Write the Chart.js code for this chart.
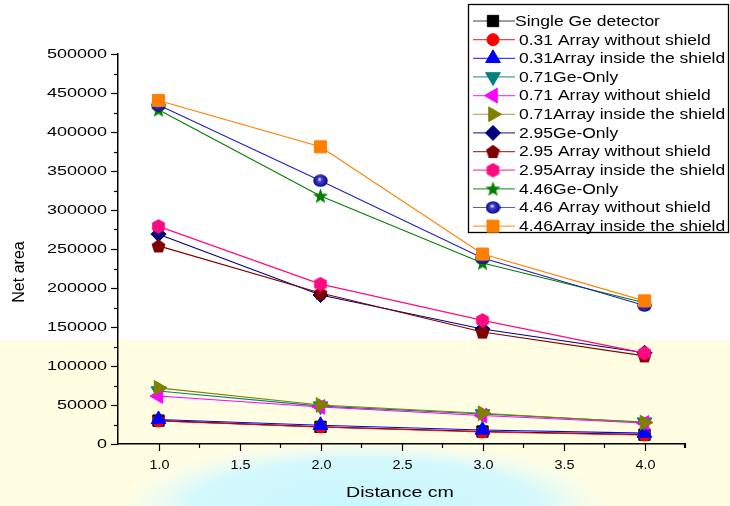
<!DOCTYPE html>
<html>
<head>
<meta charset="utf-8">
<script src="https://cdn.jsdelivr.net/npm/chart.js"></script>
<style>
  html, body { margin: 0; padding: 0; background: #ffffff; }
  #wrap { width: 730px; height: 506px; }
</style>
</head>
<body>
<div id="wrap"><canvas id="c" width="730" height="506"></canvas></div>
<script>
// ---------------- data ----------------
const distances = [1, 2, 3, 4];
const xTickValues = [1.0, 1.5, 2.0, 2.5, 3.0, 3.5, 4.0];
const yTickValues = [0, 50000, 100000, 150000, 200000, 250000, 300000, 350000, 400000, 450000, 500000];

const seriesLabels = [
  "Single Ge detector",
  "0.31 Array without shield",
  "0.31Array inside the shield",
  "0.71Ge-Only",
  "0.71 Array without shield",
  "0.71Array inside the shield",
  "2.95Ge-Only",
  "2.95 Array without shield",
  "2.95Array inside the shield",
  "4.46Ge-Only",
  "4.46 Array without shield",
  "4.46Array inside the shield"
];

const singleGe    = [30000, 22000, 16000, 12000];
const a031Without = [29500, 21800, 15400, 11500];
const a031Inside  = [31500, 24000, 18000, 14000];
const ge071Only   = [68000, 48500, 38500, 28000];
const a071Without = [61500, 47500, 36500, 27000];
const a071Inside  = [72000, 50000, 39500, 27500];
const ge295Only   = [269000, 191000, 147500, 117000];
const a295Without = [254000, 193500, 143500, 113000];
const a295Inside  = [279000, 205000, 158500, 116500];
const ge446Only   = [428500, 318000, 232000, 181000];
const a446Without = [434500, 337500, 238500, 177500];
const a446Inside  = [440500, 381000, 243500, 183500];

const seriesValues = [singleGe, a031Without, a031Inside, ge071Only, a071Without, a071Inside,
                      ge295Only, a295Without, a295Inside, ge446Only, a446Without, a446Inside];

// ---------------- custom marker canvases ----------------
function makeMarker(w, h, draw) {
  const cv = document.createElement('canvas');
  cv.width = w; cv.height = h;
  draw(cv.getContext('2d'), w, h);
  return cv;
}
function polygon(ctx, cx, cy, r, n, startDeg, color) {
  ctx.beginPath();
  for (let k = 0; k < n; k++) {
    const a = (startDeg + k * 360 / n) * Math.PI / 180;
    const px = cx + r * Math.cos(a), py = cy + r * Math.sin(a);
    if (k === 0) ctx.moveTo(px, py); else ctx.lineTo(px, py);
  }
  ctx.closePath();
  ctx.fillStyle = color; ctx.fill();
}
const pentagonMarker = makeMarker(15, 15, (ctx) => polygon(ctx, 7.5, 8, 7.3, 5, -90, '#800000'));
const hexagonMarker  = makeMarker(15, 15, (ctx) => polygon(ctx, 7.5, 7.5, 7.3, 6, -90, '#ff0a80'));
const starMarker = makeMarker(17, 17, (ctx) => {
  ctx.beginPath();
  for (let k = 0; k < 10; k++) {
    const r = k % 2 === 0 ? 8 : 3.4;
    const a = (-90 + k * 36) * Math.PI / 180;
    const px = 8.5 + r * Math.cos(a), py = 9 + r * Math.sin(a);
    if (k === 0) ctx.moveTo(px, py); else ctx.lineTo(px, py);
  }
  ctx.closePath();
  ctx.fillStyle = '#008000'; ctx.fill();
});
const ballMarker = makeMarker(15, 13, (ctx) => {
  const g = ctx.createRadialGradient(6.5, 5, 0.5, 7.5, 6.5, 7.5);
  g.addColorStop(0, '#e0e0ff');
  g.addColorStop(0.25, '#4040d0');
  g.addColorStop(1, '#000080');
  ctx.beginPath();
  ctx.ellipse(7.5, 6.5, 7.2, 6.2, 0, 0, Math.PI * 2);
  ctx.fillStyle = g; ctx.fill();
});

const seriesStyles = [
  { line: '#000000', fill: '#000000', style: 'rect', rot: 0, r: 8 },
  { line: '#ff0000', fill: '#ff0000', style: 'circle', rot: 0, r: 6 },
  { line: '#0000ff', fill: '#0000ff', style: 'triangle', rot: 0, r: 8.5 },
  { line: '#008080', fill: '#008080', style: 'triangle', rot: 180, r: 8.5 },
  { line: '#ff00ff', fill: '#ff00ff', style: 'triangle', rot: -90, r: 8.5 },
  { line: '#808000', fill: '#808000', style: 'triangle', rot: 90, r: 8.5 },
  { line: '#000080', fill: '#000080', style: 'rectRot', rot: 0, r: 7.5 },
  { line: '#800000', fill: '#800000', style: pentagonMarker, rot: 0, r: 7 },
  { line: '#ff0a80', fill: '#ff0a80', style: hexagonMarker, rot: 0, r: 7 },
  { line: '#008000', fill: '#008000', style: starMarker, rot: 0, r: 7 },
  { line: '#2020c0', fill: '#000080', style: ballMarker, rot: 0, r: 7 },
  { line: '#ff8000', fill: '#ff8000', style: 'rect', rot: 0, r: 8.5 }
];

const datasets = seriesLabels.map((label, i) => ({
  label: label,
  data: distances.map((d, j) => ({ x: d, y: seriesValues[i][j] })),
  borderColor: seriesStyles[i].line,
  borderWidth: 1.1,
  backgroundColor: seriesStyles[i].fill,
  pointBackgroundColor: seriesStyles[i].fill,
  pointBorderColor: seriesStyles[i].fill,
  pointBorderWidth: 1,
  pointStyle: seriesStyles[i].style,
  pointRotation: seriesStyles[i].rot,
  pointRadius: seriesStyles[i].r,
  tension: 0,
  fill: false,
  order: seriesLabels.length - i
}));

// ---------------- helpers ----------------
function stretchText(ctx, text, x, y, font, sx, align, color) {
  ctx.save();
  ctx.font = font;
  ctx.textAlign = align;
  ctx.textBaseline = 'middle';
  ctx.fillStyle = color || '#000';
  ctx.translate(x, y);
  ctx.scale(sx, 1);
  ctx.fillText(text, 0, 0);
  ctx.restore();
}

const backgroundPlugin = {
  id: 'bg',
  beforeDraw(chart) {
    const ctx = chart.ctx;
    ctx.save();
    ctx.fillStyle = '#ffffff';
    ctx.fillRect(0, 0, chart.width, chart.height);
    ctx.fillStyle = '#fffde2';
    ctx.fillRect(0, 340, chart.width, chart.height - 340);
    // pale cyan haze under the x axis
    ctx.translate(365, 506);
    ctx.scale(1, 0.27);
    const g = ctx.createRadialGradient(0, 0, 10, 0, 0, 245);
    g.addColorStop(0, 'rgba(200,248,255,1)');
    g.addColorStop(0.7, 'rgba(208,248,255,0.9)');
    g.addColorStop(1, 'rgba(235,252,255,0)');
    ctx.fillStyle = g;
    ctx.beginPath();
    ctx.arc(0, 0, 245, 0, Math.PI * 2);
    ctx.fill();
    ctx.restore();
  }
};

const axesPlugin = {
  id: 'axesDecor',
  afterDraw(chart) {
    const ctx = chart.ctx;
    const xs = chart.scales.x, ys = chart.scales.y;
    const area = chart.chartArea;
    ctx.save();
    ctx.strokeStyle = '#000';
    ctx.lineWidth = 1.2;
    // y ticks
    const yStep = yTickValues[1] - yTickValues[0];
    yTickValues.forEach((v, i) => {
      const py = Math.round(ys.getPixelForValue(v)) + 0.5;
      ctx.beginPath(); ctx.moveTo(area.left - 7, py); ctx.lineTo(area.left, py); ctx.stroke();
      stretchText(ctx, String(v), area.left - 11, py, '12px "Liberation Sans", Arial, sans-serif', 1.5, 'right');
      if (i < yTickValues.length - 1) {
        const pm = Math.round(ys.getPixelForValue(v + yStep / 2)) + 0.5;
        ctx.beginPath(); ctx.moveTo(area.left - 4, pm); ctx.lineTo(area.left, pm); ctx.stroke();
      }
    });
    // x ticks
    const xStep = xTickValues[1] - xTickValues[0];
    xTickValues.forEach((v) => {
      const px = Math.round(xs.getPixelForValue(v)) + 0.5;
      ctx.beginPath(); ctx.moveTo(px, area.bottom); ctx.lineTo(px, area.bottom + 7); ctx.stroke();
      stretchText(ctx, v.toFixed(1), px, area.bottom + 22, '12px "Liberation Sans", Arial, sans-serif', 1.2, 'center');
      const pm = Math.round(xs.getPixelForValue(v + xStep / 2)) + 0.5;
      if (v + xStep / 2 <= xs.max + 1e-9) {
        ctx.beginPath(); ctx.moveTo(pm, area.bottom); ctx.lineTo(pm, area.bottom + 4); ctx.stroke();
      }
    });
    const pEnd = Math.round(xs.getPixelForValue(xs.max)) - 0.5;
    ctx.beginPath(); ctx.moveTo(pEnd, area.bottom); ctx.lineTo(pEnd, area.bottom + 4); ctx.stroke();
    // axis titles
    stretchText(ctx, 'Distance cm', 400, 493, '14px "Liberation Sans", Arial, sans-serif', 1.4, 'center');
    ctx.save();
    ctx.translate(20, 272);
    ctx.rotate(-Math.PI / 2);
    stretchText(ctx, 'Net area', 0, 0, '16px "Liberation Sans Narrow", "Liberation Sans", Arial, sans-serif', 1.0, 'center');
    ctx.restore();
    ctx.restore();
  }
};

const legendPlugin = {
  id: 'boxLegend',
  afterDraw(chart) {
    const ctx = chart.ctx;
    const L = 468, T = 4, R = 729, B = 233;
    ctx.save();
    ctx.fillStyle = '#ffffff';
    ctx.fillRect(L, T, R - L, B - T);
    ctx.strokeStyle = '#000';
    ctx.lineWidth = 1.3;
    ctx.strokeRect(L + 0.5, T + 0.5, R - L - 1, B - T - 1);
    const rowH = 18.65;
    chart.data.datasets.forEach((ds, i) => {
      const y = 21 + i * rowH;
      ctx.strokeStyle = ds.borderColor;
      ctx.globalAlpha = 0.75;
      ctx.lineWidth = 1.2;
      ctx.beginPath(); ctx.moveTo(473, y); ctx.lineTo(515, y); ctx.stroke();
      ctx.globalAlpha = 1;
      ctx.fillStyle = ds.pointBackgroundColor;
      ctx.strokeStyle = ds.pointBorderColor;
      ctx.lineWidth = 1;
      Chart.helpers.drawPoint(ctx, {
        pointStyle: ds.pointStyle, rotation: ds.pointRotation,
        radius: ds.pointRadius, borderWidth: 1
      }, 493, y);
      stretchText(ctx, ds.label, i === 0 ? 515 : 519, y + 1, '14px "Liberation Sans", Arial, sans-serif', 1.25, 'left');
    });
    ctx.restore();
  }
};

new Chart(document.getElementById('c'), {
  type: 'line',
  data: { datasets: datasets },
  plugins: [backgroundPlugin, axesPlugin, legendPlugin],
  options: {
    responsive: false,
    animation: false,
    events: [],
    layout: { padding: { top: 54, right: 45, left: 0, bottom: 0 } },
    plugins: { legend: { display: false }, tooltip: { enabled: false } },
    scales: {
      x: {
        type: 'linear', min: 0.75, max: 4.25,
        ticks: { display: false },
        grid: { display: false, drawTicks: false },
        border: { display: true, color: '#000', width: 1.5 },
        afterFit(scale) { scale.height = 62; }
      },
      y: {
        type: 'linear', min: 0, max: 500000,
        ticks: { display: false },
        grid: { display: false, drawTicks: false },
        border: { display: true, color: '#000', width: 1.5 },
        afterFit(scale) { scale.width = 118; }
      }
    }
  }
});
</script>
</body>
</html>
